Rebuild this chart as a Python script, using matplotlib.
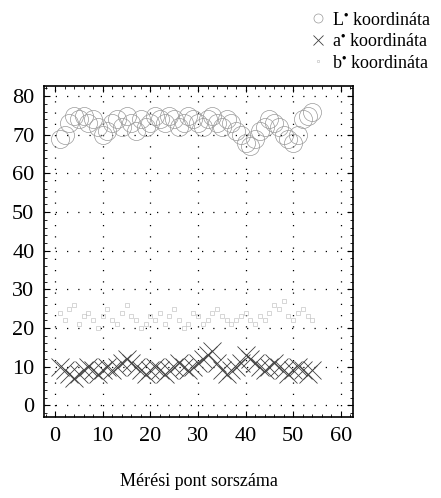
import matplotlib
matplotlib.use("Agg")
import matplotlib.pyplot as plt
from matplotlib.ticker import MultipleLocator

plt.rcParams["font.family"] = ["Liberation Serif", "DejaVu Serif"]
plt.rcParams["mathtext.fontset"] = "stix"

# measurement index and the three colour coordinates
x = list(range(1, 55))
L_star = [69, 70, 73, 75, 74, 75, 73, 74, 72, 70, 71, 73, 74, 72, 75, 73, 71, 74,
          72, 73, 75, 74, 73, 75, 74, 72, 73, 75, 74, 73, 72, 74, 75, 73, 72, 74,
          73, 71, 70, 68, 67, 69, 71, 72, 74, 73, 72, 70, 69, 68, 70, 74, 75, 76]
a_star = [10, 9, 8, 7, 8, 9, 10, 9, 8, 9, 10, 9, 10, 11, 12, 11, 10, 9,
          8, 9, 10, 9, 8, 9, 10, 11, 10, 9, 10, 11, 12, 13, 14, 11, 9, 8,
          9, 10, 11, 13, 12, 11, 10, 9, 10, 11, 10, 9, 8, 9, 10, 9, 8, 9]
b_star = [24, 22, 25, 26, 21, 23, 24, 22, 20, 23, 25, 22, 21, 24, 26, 23, 22, 20,
          21, 23, 22, 24, 21, 23, 25, 22, 20, 21, 24, 23, 21, 22, 24, 25, 23, 22,
          21, 22, 23, 24, 22, 21, 23, 22, 24, 26, 25, 27, 23, 22, 24, 25, 23, 22]

x_ticks = [0, 10, 20, 30, 40, 50, 60]
y_ticks = [0, 10, 20, 30, 40, 50, 60, 70, 80]

fig = plt.figure(figsize=(4.41, 4.98), dpi=100)
ax = fig.add_axes([0.100, 0.163, 0.700, 0.664])

ax.plot(x, L_star, ls="none", marker="o", ms=13, mfc="none", mec="0.6", mew=0.5,
        label=r"L$^{\bullet}$ koordináta")
ax.plot(x, a_star, ls="none", marker="x", ms=13, mec="0.25", mew=0.6,
        label=r"a$^{\bullet}$ koordináta")
ax.plot(x, b_star, ls="none", marker="s", ms=3.5, mfc="none", mec="0.72", mew=0.4,
        label=r"b$^{\bullet}$ koordináta")

ax.set_xlim(-2.3, 62.5)
ax.set_ylim(-3, 82.6)
ax.set_xticks(x_ticks)
ax.set_yticks(y_ticks)
ax.xaxis.set_minor_locator(MultipleLocator(2))
ax.yaxis.set_minor_locator(MultipleLocator(2))
ax.tick_params(which="both", direction="in", top=True, right=True, labelsize=16, pad=7)
ax.tick_params(which="major", length=4)
ax.tick_params(which="minor", length=2)
ax.grid(True, which="major", ls=(0, (1, 8)), color="k", lw=0.9)
for sp in ax.spines.values():
    sp.set_linestyle((0, (3, 1)))
    sp.set_linewidth(1.2)

ax.set_xlabel("Mérési pont sorszáma", fontsize=13, labelpad=20)

fig.legend(loc="upper right", bbox_to_anchor=(1.0, 0.995), frameon=False, fontsize=13,
           handlelength=0.8, handletextpad=0.4, labelspacing=0.25, markerscale=0.5,
           borderaxespad=0.1)

fig.savefig("out.png", dpi=100)
